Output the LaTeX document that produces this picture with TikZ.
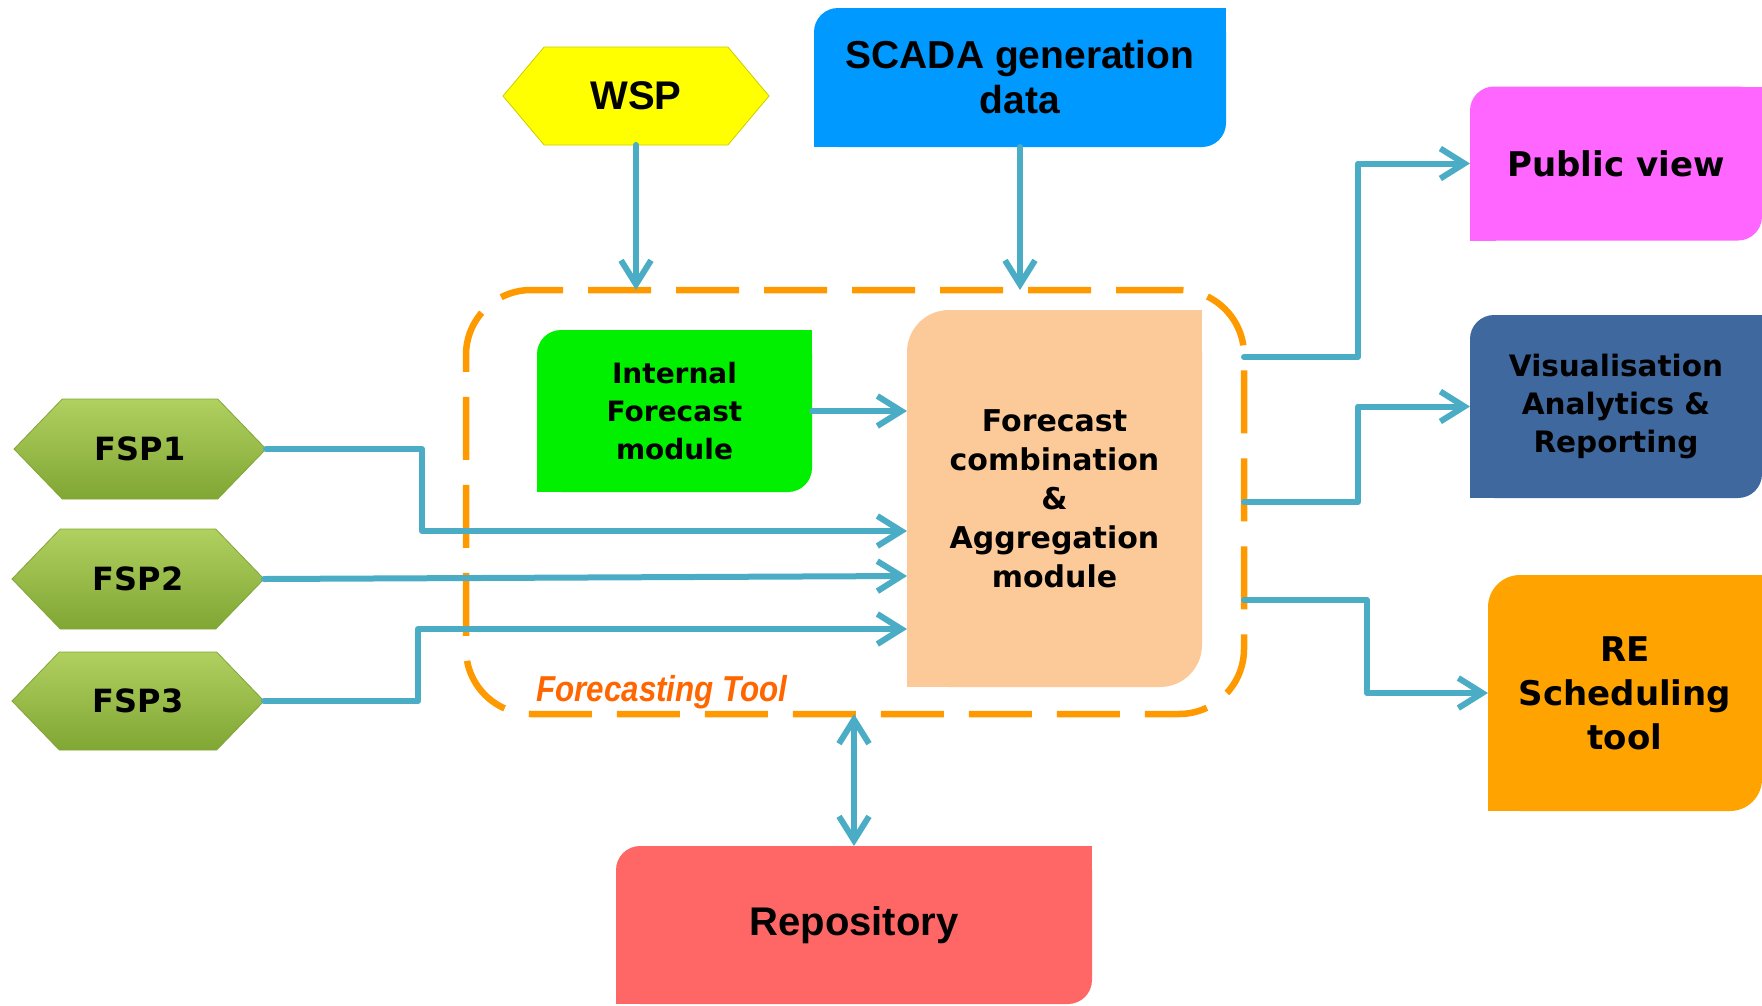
\documentclass[tikz,border=0pt]{standalone}
\usepackage{fontspec}
\setmainfont{DejaVu Sans}
\newfontfamily\narrowfont{Liberation Sans}
\newfontfamily\condfont[FakeStretch=0.87]{Liberation Sans}
\usetikzlibrary{arrows.meta,shapes.symbols,positioning}

\definecolor{fsplight}{RGB}{176,208,96}
\definecolor{fspdark}{RGB}{128,166,52}
\definecolor{wspyellow}{RGB}{255,255,0}
\definecolor{scadablue}{RGB}{0,153,255}
\definecolor{internalgreen}{RGB}{0,240,0}
\definecolor{combpeach}{RGB}{252,202,152}
\definecolor{publicpink}{RGB}{255,102,255}
\definecolor{visblue}{RGB}{62,104,158}
\definecolor{reorange}{RGB}{255,163,0}
\definecolor{repored}{RGB}{255,102,102}
\definecolor{flowblue}{RGB}{75,172,198}
\definecolor{toolorange}{RGB}{255,153,0}
\definecolor{labelorange}{RGB}{255,102,0}

\tikzset{
  leaf/.style 2 args={path picture={
    \fill[#1, rounded corners=#2] (path picture bounding box.south west) rectangle (path picture bounding box.north east);
    \fill[#1] (path picture bounding box.north east) rectangle ([xshift=-#2-2pt, yshift=-#2-2pt]path picture bounding box.north east);
    \fill[#1] (path picture bounding box.south west) rectangle ([xshift=#2+2pt, yshift=#2+2pt]path picture bounding box.south west);}},
}

\begin{document}
\begin{tikzpicture}[x=1pt, y=-1pt,
    every node/.style={font=\bfseries, align=center, inner sep=0pt, outer sep=0pt},
    hexbox/.style={signal, signal to=west and east, draw=#1, line width=0.8pt},
    flow/.style={draw=flowblue, line width=6pt, line cap=round, line join=round},
    >={Straight Barb[length=24pt,width=30pt]}]
    \useasboundingbox (0,0) rectangle (1762,1005);

    % Forecasting tool frame
    \node[draw=toolorange, line width=6.5pt, dash pattern=on 63pt off 25pt,
          rounded corners=65pt, minimum width=778pt, minimum height=424pt] (tool) at (855,502) {};
    \node[font=\condfont\bfseries\itshape\fontsize{36}{42}\selectfont, text=labelorange] (toollabel) at (662,692) {Forecasting Tool};

    % Inputs
    \node[hexbox=fspdark, signal pointer angle=92, minimum width=252pt, minimum height=100pt,
          top color=fsplight, bottom color=fspdark, font=\bfseries\fontsize{32}{38}\selectfont] (fsp1) at (140,449) {FSP1};
    \node[hexbox=fspdark, signal pointer angle=92, minimum width=252pt, minimum height=100pt,
          top color=fsplight, bottom color=fspdark, font=\bfseries\fontsize{32}{38}\selectfont] (fsp2) at (138,579) {FSP2};
    \node[hexbox=fspdark, signal pointer angle=92, minimum width=252pt, minimum height=98pt,
          top color=fsplight, bottom color=fspdark, font=\bfseries\fontsize{32}{38}\selectfont] (fsp3) at (138,701) {FSP3};
    \node[hexbox=wspyellow!80!black, signal pointer angle=100, minimum width=266pt, minimum height=98pt,
          fill=wspyellow, font=\narrowfont\bfseries\fontsize{40}{46}\selectfont] (wsp) at (636,96) {WSP};
    \node[leaf={scadablue}{24pt}, minimum width=412pt, minimum height=139pt,
          font=\narrowfont\bfseries\fontsize{39}{45}\selectfont] (scada) at (1020,77.5) {SCADA generation\\data};

    % Modules
    \node[leaf={internalgreen}{24pt}, minimum width=275pt, minimum height=162pt,
          font=\bfseries\fontsize{28}{38}\selectfont] (internal) at (674.5,411) {Internal\\Forecast\\module};
    \node[leaf={combpeach}{42pt}, minimum width=295pt, minimum height=377pt,
          font=\bfseries\fontsize{30}{39}\selectfont] (comb) at (1054.5,498.5) {Forecast\\combination\\\&\\Aggregation\\module};

    % Outputs
    \node[leaf={publicpink}{24pt}, minimum width=292pt, minimum height=154pt,
          font=\bfseries\fontsize{34}{40}\selectfont] (public) at (1616,163.5) {Public view};
    \node[leaf={visblue}{24pt}, minimum width=292pt, minimum height=183pt,
          font=\bfseries\fontsize{29.5}{38}\selectfont] (vis) at (1616,406.5) {Visualisation\\Analytics \&\\Reporting};
    \node[leaf={reorange}{32pt}, minimum width=274pt, minimum height=236pt,
          font=\bfseries\fontsize{34}{44}\selectfont] (re) at (1625,693) {RE\\Scheduling\\tool};
    \node[leaf={repored}{24pt}, minimum width=476pt, minimum height=158pt,
          font=\narrowfont\bfseries\fontsize{40}{46}\selectfont] (repo) at (854,925) {Repository};

    % Inputs to frame and modules
    \draw[flow, ->] (wsp.south) -- (wsp.south |- tool.north);
    \draw[flow, ->] (scada.south) -- (scada.south |- tool.north);
    \draw[flow, ->] (internal.east) -- (internal.east -| comb.west);
    \draw[flow, ->] (fsp1.east) -- ++(156,0) |- ([yshift=-32.5pt]comb.west);
    \draw[flow, ->] (fsp2.east) -- ([yshift=-77.5pt]comb.west);
    \draw[flow, ->] (fsp3.east) -- ++(154,0) |- ([yshift=-130.5pt]comb.west);

    % Frame to outputs
    \draw[flow, ->] ([yshift=145pt]tool.east) -- ++(114,0) |- (public.west);
    \draw[flow, ->] (tool.east) -- ++(114,0) |- (vis.west);
    \draw[flow, ->] ([yshift=-98pt]tool.east) -- ++(123,0) |- (re.west);
    \draw[flow, <->] (repo.north) -- (repo.north |- tool.south);
\end{tikzpicture}
\end{document}
